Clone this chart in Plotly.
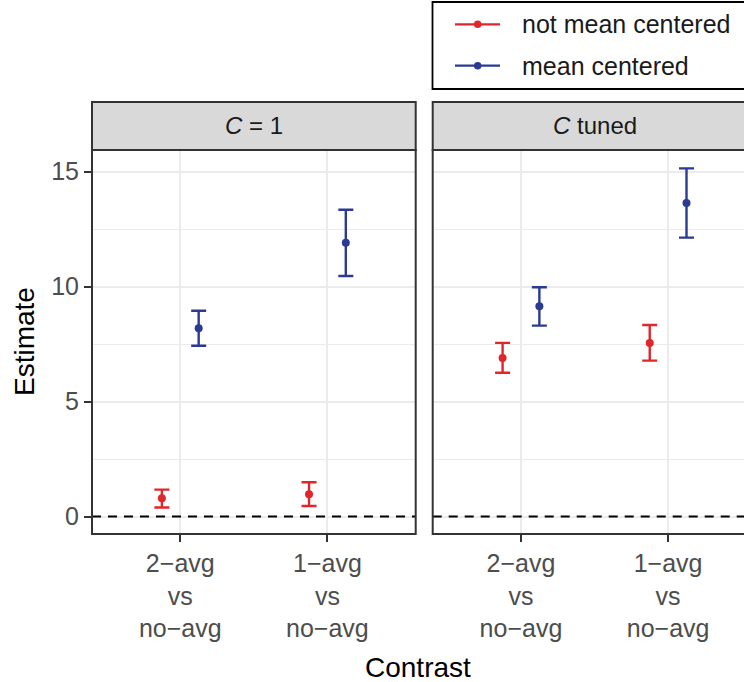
import plotly.graph_objects as go

# ---------------- data ----------------
categories = ["2\u2212avg<br>vs<br>no\u2212avg", "1\u2212avg<br>vs<br>no\u2212avg"]
facets = ["<i>C</i> = 1", "<i>C</i> tuned"]
series = ["not mean centered", "mean centered"]

# facet C = 1
c1_not_est = [0.79, 0.97]
c1_not_lo = [0.39, 0.46]
c1_not_hi = [1.17, 1.49]
c1_mc_est = [8.19, 11.91]
c1_mc_lo = [7.43, 10.46]
c1_mc_hi = [8.95, 13.34]

# facet C tuned
ct_not_est = [6.89, 7.55]
ct_not_lo = [6.25, 6.78]
ct_not_hi = [7.55, 8.33]
ct_mc_est = [9.14, 13.64]
ct_mc_lo = [8.30, 12.13]
ct_mc_hi = [9.97, 15.14]

y_ticks = [0, 5, 10, 15]

# ---------------- style ----------------
W, H = 744, 682
FONT = "Liberation Sans, Arial, Helvetica, sans-serif"
RED = "#E0262A"
BLUE = "#2B3A93"
DODGE = 0.125
colors = [RED, BLUE]
offsets = [-DODGE, DODGE]


def px_x(p):
    return p / W


def px_y(p):
    return (H - p) / H


fig = go.Figure()

panel_data = [
    [(c1_not_est, c1_not_lo, c1_not_hi), (c1_mc_est, c1_mc_lo, c1_mc_hi)],
    [(ct_not_est, ct_not_lo, ct_not_hi), (ct_mc_est, ct_mc_lo, ct_mc_hi)],
]
axes = [("x", "y"), ("x2", "y2")]

for pi, pdata in enumerate(panel_data):
    xa, ya = axes[pi]
    for si, (est, lo, hi) in enumerate(pdata):
        xs = [i + 1 + offsets[si] for i in range(len(est))]
        fig.add_trace(go.Scatter(
            x=xs, y=est, mode="markers", name=series[si],
            showlegend=False, xaxis=xa, yaxis=ya,
            marker=dict(color=colors[si], size=8),
            error_y=dict(type="data", symmetric=False,
                         array=[h - e for h, e in zip(hi, est)],
                         arrayminus=[e - l for e, l in zip(est, lo)],
                         color=colors[si], thickness=2.4, width=7.5),
        ))

# panel geometry (pixels)
PT, PB = 150, 534
L1, R1 = 92, 415.7
L2 = 432.7
yrange = [-0.76, 15.94]

common_x = dict(tickmode="array", tickvals=[1, 2], ticktext=categories,
                showgrid=True, gridcolor="#EBEBEB", gridwidth=2.2,
                zeroline=False, showline=False,
                ticks="outside", ticklen=7, tickwidth=2, tickcolor="#333333",
                tickfont=dict(family=FONT, size=25, color="#4D4D4D"),
                fixedrange=True)
common_y = dict(range=yrange, tickmode="array", tickvals=y_ticks,
                showgrid=True, gridcolor="#EBEBEB", gridwidth=2.2,
                minor=dict(dtick=2.5, tick0=0, showgrid=True, gridcolor="#EBEBEB",
                           gridwidth=1.1, ticks=""),
                zeroline=False, showline=False,
                domain=[px_y(PB), px_y(PT)], fixedrange=True)

fig.update_layout(
    width=W, height=H,
    margin=dict(l=0, r=0, t=0, b=0),
    paper_bgcolor="white", plot_bgcolor="white",
    showlegend=False,
    font=dict(family=FONT),
    xaxis=dict(common_x, domain=[px_x(L1), px_x(R1)], range=[0.4, 2.6], anchor="y"),
    xaxis2=dict(common_x, domain=[px_x(L2), 1.0],
                range=[0.4, 0.4 + (W - L2) / ((R1 - L1) / 2.2)], anchor="y2"),
    yaxis=dict(common_y, anchor="x", ticks="outside", ticklen=7, tickwidth=2,
               tickcolor="#333333",
               tickfont=dict(family=FONT, size=25, color="#4D4D4D")),
    yaxis2=dict(common_y, anchor="x2", showticklabels=False, ticks=""),
)


def open_box(l, t, b, color, width, fill):
    """Box whose right side runs off the page (no right edge drawn)."""
    xl, xr = px_x(l), px_x(W + 20)
    yt, yb = px_y(t), px_y(b)
    return [
        dict(type="rect", xref="paper", yref="paper", x0=xl, x1=xr, y0=yb, y1=yt,
             line=dict(width=0), fillcolor=fill, layer="above"),
        dict(type="path", xref="paper", yref="paper",
             path=f"M {xr} {yt} L {xl} {yt} L {xl} {yb} L {xr} {yb}",
             line=dict(color=color, width=width), layer="above"),
    ]


shapes = []
# dashed reference line at 0
for xa, ya in [("x", "y"), ("x2", "y2")]:
    shapes.append(dict(type="line", xref=f"{xa} domain", yref=ya, x0=0, x1=1,
                       y0=0, y1=0, line=dict(color="black", width=2, dash="9px,7px"),
                       layer="above"))

# left panel border and strip
shapes.append(dict(type="rect", xref="paper", yref="paper",
                   x0=px_x(L1), x1=px_x(R1), y0=px_y(PB), y1=px_y(PT),
                   line=dict(color="#333333", width=2),
                   fillcolor="rgba(0,0,0,0)", layer="above"))
shapes.append(dict(type="rect", xref="paper", yref="paper",
                   x0=px_x(L1), x1=px_x(R1), y0=px_y(PT), y1=px_y(102),
                   line=dict(color="#333333", width=2),
                   fillcolor="#D9D9D9", layer="above"))
# right panel border and strip (cut by the page edge)
shapes += open_box(L2, PT, PB, "#333333", 2, "rgba(0,0,0,0)")
shapes += open_box(L2, 102, PT, "#333333", 2, "#D9D9D9")

# legend box
shapes += open_box(432.5, 2, 89, "black", 1.8, "white")
leg_y = [24.3, 65.7]
for i, c in enumerate(colors):
    shapes.append(dict(type="line", xref="paper", yref="paper",
                       x0=px_x(455), x1=px_x(500), y0=px_y(leg_y[i]), y1=px_y(leg_y[i]),
                       line=dict(color=c, width=2.2), layer="above"))
    r = 3.8
    shapes.append(dict(type="circle", xref="paper", yref="paper",
                       x0=px_x(477.7 - r), x1=px_x(477.7 + r),
                       y0=px_y(leg_y[i] + r), y1=px_y(leg_y[i] - r),
                       line=dict(color=c, width=0), fillcolor=c, layer="above"))

fig.update_layout(shapes=shapes)

annotations = []
# strip labels
for (l, r), txt in zip([(L1, R1), (L2, L2 + (R1 - L1))], facets):
    annotations.append(dict(text=txt, xref="paper", yref="paper",
                            x=px_x((l + r) / 2), y=px_y(126), showarrow=False,
                            xanchor="center", yanchor="middle",
                            font=dict(family=FONT, size=24, color="#1A1A1A")))
# legend labels
for i, s in enumerate(series):
    annotations.append(dict(text=s, xref="paper", yref="paper",
                            x=px_x(520), y=px_y(leg_y[i]), showarrow=False,
                            xanchor="left", yanchor="middle",
                            font=dict(family=FONT, size=25, color="#1A1A1A")))
# axis titles
annotations.append(dict(text="Estimate", xref="paper", yref="paper",
                        x=px_x(24), y=px_y((PT + PB) / 2), textangle=-90,
                        showarrow=False, xanchor="center", yanchor="middle",
                        font=dict(family=FONT, size=28, color="black")))
annotations.append(dict(text="Contrast", xref="paper", yref="paper",
                        x=px_x(418), y=px_y(667), showarrow=False,
                        xanchor="center", yanchor="middle",
                        font=dict(family=FONT, size=28, color="black")))
fig.update_layout(annotations=annotations)

fig.write_html("out.html",
               config={"displayModeBar": False, "staticPlot": False},
               post_script="document.body.style.margin='0px';"
                           "document.body.style.overflow='hidden';")
